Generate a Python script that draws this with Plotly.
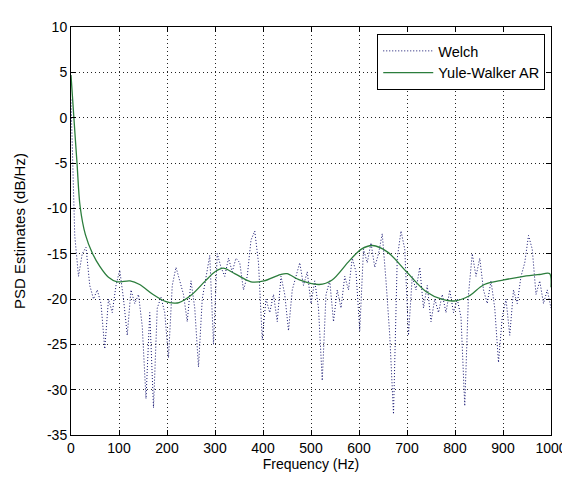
import numpy as np
import plotly.graph_objects as go

# Welch estimate, 129 bins from 0 to 1000 Hz
welch_freq = np.linspace(0, 1000, 129)
welch_db = [
    2.0, -13.0, -17.5, -15.0, -14.3, -18.5, -20.0, -19.0, -20.5, -25.5,
    -20.0, -21.5, -18.5, -16.8, -20.0, -24.0, -19.0, -20.5, -19.5, -23.0,
    -31.0, -21.5, -32.0, -21.0, -19.8, -21.5, -26.5, -18.5, -16.5, -18.0,
    -19.5, -22.5, -18.0, -21.0, -27.5, -20.0, -17.5, -15.2, -25.0, -15.0,
    -16.5, -17.5, -15.5, -17.0, -15.5, -16.0, -19.0, -17.5, -13.5, -12.5,
    -16.0, -24.5, -20.0, -21.5, -19.5, -22.5, -17.5, -19.5, -23.5, -19.0,
    -17.5, -16.0, -18.5, -17.0, -20.5, -18.0, -21.0, -29.0, -19.5, -18.0,
    -22.5, -19.0, -21.0, -17.5, -19.0, -15.5, -17.0, -23.5, -14.5, -16.0,
    -13.8, -16.5, -15.0, -12.8, -18.0, -24.0, -32.7, -15.5, -12.5, -14.5,
    -24.0, -17.5, -19.0, -16.5, -21.0, -18.5, -22.5, -20.0, -21.5, -19.5,
    -21.5, -19.0, -21.5, -20.0, -22.0, -31.8, -19.5, -15.0, -17.5, -15.5,
    -19.0, -20.5, -18.0, -21.0, -27.0, -22.0, -20.0, -24.0, -19.0, -20.5,
    -17.5, -16.0, -13.0, -14.5, -19.5, -18.0, -20.5, -19.0, -21.0,
]

# Yule-Walker AR spectrum (smooth)
yw_freq = [0, 6, 12.5, 19, 30, 45, 60, 78, 96, 123, 143, 171, 198,
           215, 225, 252, 280, 300, 317, 341, 375, 402, 436, 450, 476, 517,
           544, 578, 605, 628, 659, 699, 740, 774, 801, 828, 861, 902, 943,
           976, 997, 1000]
yw_db = [4.7, 0.0, -5.0, -9.8, -12.9, -15.0, -16.4, -17.6, -18.1,
         -18.0, -18.4, -19.5, -20.3, -20.45, -20.4, -19.5, -18.0, -17.0, -16.6,
         -17.2, -18.1, -18.0, -17.3, -17.2, -17.9, -18.4, -17.9, -15.9, -14.5,
         -14.1, -14.8, -17.0, -19.2, -20.05, -20.2, -19.7, -18.4, -17.9, -17.5,
         -17.3, -17.2, -18.7]

x_ticks = list(range(0, 1001, 100))
y_ticks = list(range(-35, 11, 5))
# matlab style labels, plain hyphen for minus
y_labels = [str(v) for v in y_ticks]
x_labels = [str(v) for v in x_ticks]

FONT = "Liberation Sans, Arial, sans-serif"

fig = go.Figure()
fig.add_trace(go.Scatter(x=welch_freq, y=welch_db, mode="lines", name="Welch",
                         line=dict(color="#10106e", width=1, dash="1px,2px")))
fig.add_trace(go.Scatter(x=yw_freq, y=yw_db, mode="lines", name="Yule-Walker AR",
                         line=dict(color="#2b7d3c", width=1.3, shape="spline", smoothing=0.9)))

axis_common = dict(showline=True, linecolor="black", linewidth=1, mirror="allticks",
                   ticks="inside", ticklen=5, tickcolor="black",
                   showgrid=True, gridcolor="#222222", griddash="1px,3px", gridwidth=1,
                   zeroline=False, ticklabeloverflow="allow",
                   tickfont=dict(size=14, color="black", family=FONT))

fig.update_xaxes(range=[0, 1000], tickvals=x_ticks, ticktext=x_labels,
                 title=dict(text="Frequency (Hz)", font=dict(size=14, family=FONT, color="black"), standoff=1),
                 **axis_common)
fig.update_yaxes(range=[-35, 10], tickvals=y_ticks, ticktext=y_labels,
                 title=dict(text="PSD Estimates (dB/Hz)", font=dict(size=15, family=FONT, color="black"), standoff=17),
                 **axis_common)

fig.update_layout(
    width=570, height=477,
    margin=dict(l=63, r=15, t=11, b=50),
    paper_bgcolor="white", plot_bgcolor="white",
    font=dict(family=FONT, color="black", size=14),
    legend=dict(x=0.988, y=0.983, xanchor="right", yanchor="top",
                bgcolor="white", bordercolor="black", borderwidth=1,
                itemwidth=50, font=dict(size=14.5, family=FONT, color="black")),
)

fig.write_html("out.html")
